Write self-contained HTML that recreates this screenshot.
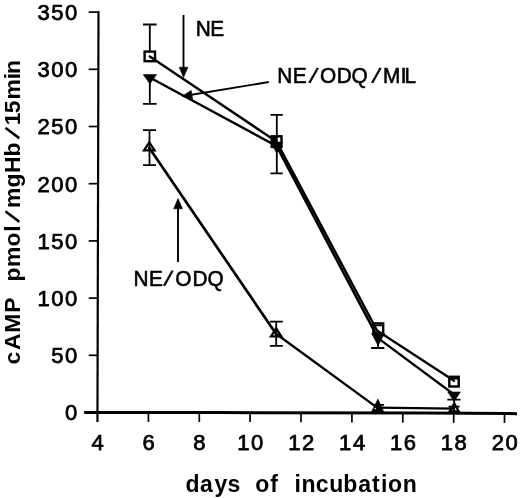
<!DOCTYPE html>
<html>
<head>
<meta charset="utf-8">
<title>cAMP vs days of incubation</title>
<style>
  html, body { margin: 0; padding: 0; background: #fff; }
  body { width: 520px; height: 498px; overflow: hidden; }
  svg { display: block; }
  text { font-family: "Liberation Sans", sans-serif; fill: #000; }
  .tick { font-size: 22px; stroke: #000; stroke-width: 0.75px; }
  .ann { font-size: 22.4px; stroke: #000; stroke-width: 0.6px; }
  .lab { font-weight: bold; }
  .ln { stroke: #000; stroke-width: 2.6; fill: none; stroke-linejoin: miter; }
  .eb { stroke: #000; stroke-width: 1.8; fill: none; }
  .ax { stroke: #000; fill: none; }
</style>
</head>
<body>
<svg width="520" height="498" viewBox="0 0 520 498">
  <rect x="0" y="0" width="520" height="498" fill="#fff"/>

  <g class="ax">
    <line x1="98.5" y1="10.9" x2="97.45" y2="421.9" stroke-width="2.2"/>
    <polyline points="84.2,412.45 220,412.6 425,413.1 517,413.65" stroke-width="3"/>
    <g stroke-width="1.7">
      <line x1="88.7" y1="355.3" x2="98.3" y2="355.3"/>
      <line x1="88.7" y1="298.1" x2="98.3" y2="298.1"/>
      <line x1="88.7" y1="240.9" x2="98.3" y2="240.9"/>
      <line x1="88.7" y1="183.7" x2="98.3" y2="183.7"/>
      <line x1="88.7" y1="126.5" x2="98.3" y2="126.5"/>
      <line x1="88.7" y1="69.3" x2="98.3" y2="69.3"/>
      <line x1="88.7" y1="12.1" x2="98.3" y2="12.1"/>
      <line x1="148.4" y1="412.5" x2="148.4" y2="421.9"/>
      <line x1="199.3" y1="412.5" x2="199.3" y2="421.9"/>
      <line x1="250.1" y1="412.6" x2="250.1" y2="422.0"/>
      <line x1="301.0" y1="412.8" x2="301.0" y2="422.2"/>
      <line x1="351.9" y1="413.0" x2="351.9" y2="422.4"/>
      <line x1="402.8" y1="413.2" x2="402.8" y2="422.6"/>
      <line x1="453.7" y1="413.4" x2="453.7" y2="422.8"/>
      <line x1="504.5" y1="413.6" x2="504.5" y2="423.0"/>
    </g>
  </g>
  <g class="tick">
    <text transform="translate(0,420.3) scale(1.000,1)" x="65.0" y="0">0</text>
    <text transform="translate(0,363.1) scale(1.000,1)" x="51.2 65.0" y="0">50</text>
    <text transform="translate(0,305.9) scale(1.000,1)" x="37.4 51.2 65.0" y="0">100</text>
    <text transform="translate(0,248.7) scale(1.000,1)" x="37.4 51.2 65.0" y="0">150</text>
    <text transform="translate(0,191.5) scale(1.000,1)" x="37.4 51.2 65.0" y="0">200</text>
    <text transform="translate(0,134.3) scale(1.000,1)" x="37.4 51.2 65.0" y="0">250</text>
    <text transform="translate(0,77.1) scale(1.000,1)" x="37.4 51.2 65.0" y="0">300</text>
    <text transform="translate(0,19.9) scale(1.000,1)" x="37.4 51.2 65.0" y="0">350</text>
    <text transform="translate(0,450.2) scale(1.000,1)" x="91.6" y="0">4</text>
    <text transform="translate(0,450.2) scale(1.000,1)" x="142.5" y="0">6</text>
    <text transform="translate(0,450.2) scale(1.000,1)" x="193.3" y="0">8</text>
    <text transform="translate(0,450.2) scale(1.000,1)" x="237.3 251.1" y="0">10</text>
    <text transform="translate(0,450.2) scale(1.000,1)" x="288.2 302.0" y="0">12</text>
    <text transform="translate(0,450.2) scale(1.000,1)" x="339.1 352.9" y="0">14</text>
    <text transform="translate(0,450.2) scale(1.000,1)" x="390.0 403.8" y="0">16</text>
    <text transform="translate(0,450.2) scale(1.000,1)" x="440.8 454.6" y="0">18</text>
    <text transform="translate(0,450.2) scale(1.000,1)" x="491.7 505.5" y="0">20</text>
  </g>
  <text class="lab" font-size="23.0" x="185.6 200.1 214.4 227.5 233.5 255.2 270.3 276.3 294.6 301.5 315.7 329.2 343.3 358.3 372.1 381.0 388.0 402.8" y="491.6 491.6 491.6 491.6 491.6 491.6 491.6 491.6 491.6 491.6 491.6 491.6 491.6 491.6 491.6 491.6 491.6 491.6">days of incubation</text>
  <text class="lab" transform="translate(20.1,364.4) rotate(-90)" font-size="22.9" x="-0.2 14.5 31.7 51.7 57.7 82.8 97.4 117.9 132.6 141.4 156.3 176.9 191.4 208.0 225.0 239.1 251.2 265.0 285.1 290.3" y="0.0 0.0 0.0 0.0 0.0 0.0 0.0 0.0 0.0 -1.9 0.0 0.0 0.0 0.0 -1.9 0.0 0.0 0.0 0.0 0.0" rotate="0 0 0 0 0 0 0 0 0 26 0 0 0 0 26 0 0 0 0 0">cAMP pmol/mgHb/15min</text>
  <!-- error bars -->
  <g class="eb">
    <path d="M149.8 51 V24.5 M143 24.5 H156.6"/>
    <path d="M149.8 82 V103.8 M143 103.8 H156.6"/>
    <path d="M276.8 114.8 V173.4 M270.5 114.8 H282.8 M270.5 173.4 H282.8"/>
    <path d="M378 340 V347.8 M371.2 348 H384.3 M372.5 325.3 H384"/>
    <path d="M454.2 392 V412 M447.3 399.7 H460.6 M448.5 406.6 H459.6"/>
    <path d="M448.6 378.6 H459.4"/>
    <path d="M149.5 130.1 V165.2 M143 130.1 H156 M143 165.2 H156"/>
    <path d="M276.2 321.7 V345.8 M269.8 321.7 H282.8 M269.8 345.8 H282.8"/>
  </g>

  <!-- series lines -->
  <g class="ln" stroke-linecap="round">
    <line x1="149.8" y1="56.4" x2="276.5" y2="141.6" stroke-width="2.4"/>
    <line x1="276.5" y1="141.6" x2="377" y2="330.5" stroke-width="2.5"/>
    <line x1="377" y1="330.5" x2="454" y2="380.8" stroke-width="2.3"/>
    <line x1="149.8" y1="77.5" x2="276.5" y2="146" stroke-width="2.4"/>
    <line x1="276.5" y1="146" x2="378" y2="338.2" stroke-width="2.5"/>
    <line x1="378" y1="338.2" x2="454" y2="394.5" stroke-width="2.3"/>
    <line x1="149.2" y1="147.8" x2="276" y2="333.8" stroke-width="2.7"/>
    <line x1="276" y1="333.8" x2="377.5" y2="407.9" stroke-width="2.4"/>
    <line x1="377.5" y1="407.6" x2="454" y2="408.7" stroke-width="2.2"/>
  </g>

  <!-- markers: NE open squares -->
  <g stroke="#000" stroke-width="2.4" fill="none">
    <rect x="144.6" y="51.6" width="10.4" height="9.6"/>
    <rect x="271.7" y="136.3" width="9.8" height="10.6"/>
    <rect x="373.4" y="323.4" width="9.8" height="9.9"/>
    <rect x="449.3" y="376.8" width="9.4" height="9.7"/>
  </g>
  <!-- markers: NE/ODQ/MIL filled down triangles -->
  <g fill="#000" stroke="#000" stroke-width="0.6" stroke-linejoin="miter">
    <path d="M143.2 74.6 H156.6 L149.9 83.8 Z"/>
    <path d="M270.5 142 H282.8 L276.6 153 Z"/>
    <path d="M371.6 333.5 H384.6 L378 345.4 Z"/>
    <path d="M447.8 392 H460.4 L454.1 401.4 Z"/>
  </g>
  <rect x="272" y="137" width="4.6" height="5.4" fill="#000"/>
  <!-- markers: NE/ODQ open up triangles -->
  <g fill="none" stroke="#000" stroke-width="2.2" stroke-linejoin="miter">
    <path d="M149.3 142.3 L154.6 150.4 H144 Z"/>
    <path d="M276.2 328.3 L281.4 336.4 H271 Z"/>
    <path d="M454.2 403.4 L458.8 411.4 H449.6 Z"/>
  </g>
  <path d="M377.9 399.3 L384 412.4 H371.3 Z" fill="#000" stroke="#000" stroke-width="0.8" stroke-linejoin="miter"/>
  <g class="eb">
    <path d="M374.6 404.9 H384"/>
  </g>
  <circle cx="375.1" cy="408.6" r="0.8" fill="#fff"/>

  <!-- annotation arrows -->
  <g stroke="#000" stroke-width="1.9" fill="#000">
    <line x1="183.5" y1="15" x2="183.5" y2="70"/>
    <path d="M179.2 67.2 H187.9 L183.5 77.5 Z" stroke-width="0.6"/>
    <line x1="268.8" y1="82" x2="190" y2="95"/>
    <path d="M182 96.3 L191.2 90.4 L192.6 99 Z" stroke-width="0.6"/>
    <line x1="178" y1="262" x2="178" y2="206"/>
    <path d="M178 198.6 L182.5 208.8 H173.7 Z" stroke-width="0.6"/>
  </g>

  <g class="ann">
    <text transform="scale(0.930,1)" x="210.5 226.0" y="35.6 35.6">NE</text>
    <text transform="scale(0.930,1)" x="298.0 314.9 331.9 344.1 362.1 378.0 399.4 411.8 430.8 434.9" y="83.2 83.2 82.3 83.2 83.2 83.2 82.3 83.2 83.2 83.2" rotate="0 0 16 0 0 0 16 0 0 0">NE/ODQ/MIL</text>
    <text transform="scale(0.930,1)" x="143.5 160.1 175.9 188.5 206.9 223.0" y="286.0 286.0 285.1 286.0 286.0 286.0" rotate="0 0 16 0 0 0">NE/ODQ</text>
  </g>
</svg>
</body>
</html>
